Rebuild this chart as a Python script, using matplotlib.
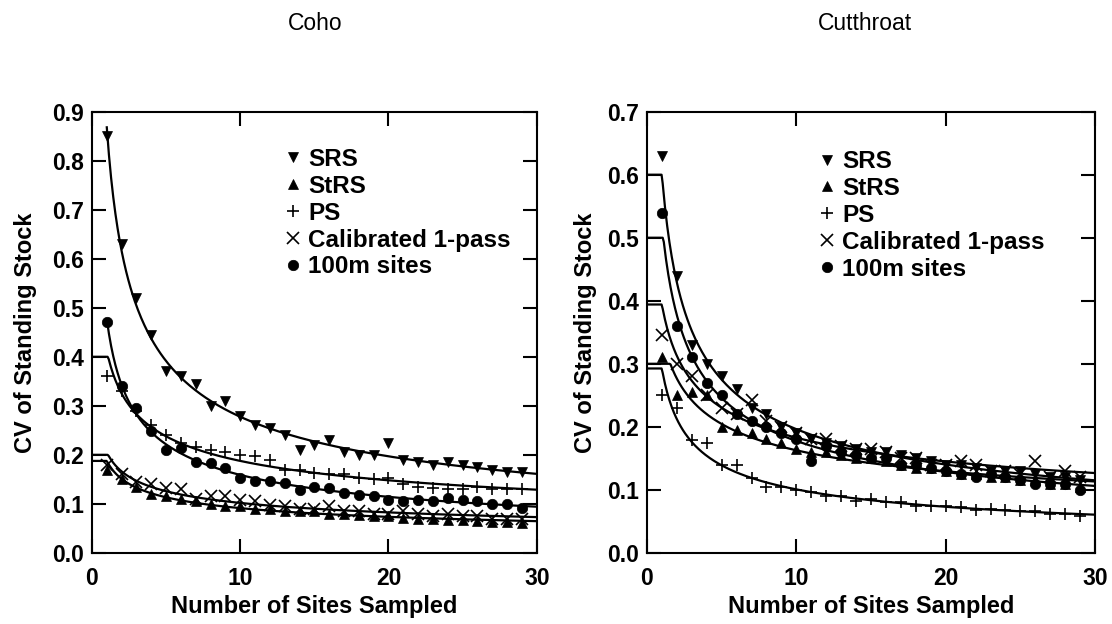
import matplotlib
matplotlib.use('Agg')
import matplotlib.pyplot as plt
import numpy as np

plt.rcParams['font.family'] = ['Liberation Sans', 'DejaVu Sans']

n_sites = np.arange(1, 30)

# Coho
coho_srs = [0.85, 0.63, 0.52, 0.445, 0.37, 0.36, 0.345, 0.30, 0.31, 0.28,
            0.26, 0.255, 0.24, 0.21, 0.22, 0.23, 0.205, 0.20, 0.20, 0.225,
            0.19, 0.185, 0.18, 0.185, 0.18, 0.175, 0.17, 0.165, 0.165]
coho_strs = [0.17, 0.15, 0.135, 0.12, 0.115, 0.11, 0.105, 0.10, 0.095, 0.095,
             0.09, 0.09, 0.085, 0.085, 0.085, 0.08, 0.08, 0.078, 0.075, 0.075,
             0.072, 0.07, 0.07, 0.068, 0.067, 0.065, 0.063, 0.063, 0.06]
coho_ps = [0.36, 0.33, 0.29, 0.26, 0.24, 0.225, 0.215, 0.21, 0.205, 0.20,
           0.197, 0.19, 0.17, 0.17, 0.163, 0.16, 0.16, 0.153, 0.15, 0.152,
           0.14, 0.135, 0.133, 0.131, 0.131, 0.134, 0.131, 0.13, 0.13]
coho_cal = [0.18, 0.16, 0.145, 0.14, 0.132, 0.13, 0.11, 0.117, 0.115, 0.108,
            0.105, 0.098, 0.095, 0.09, 0.09, 0.095, 0.085, 0.085, 0.08, 0.08,
            0.085, 0.08, 0.075, 0.08, 0.075, 0.075, 0.07, 0.07, 0.07]
coho_100m = [0.47, 0.34, 0.295, 0.248, 0.21, 0.214, 0.186, 0.183, 0.173, 0.152,
             0.146, 0.146, 0.143, 0.129, 0.135, 0.132, 0.122, 0.118, 0.116, 0.108,
             0.105, 0.108, 0.105, 0.112, 0.108, 0.105, 0.10, 0.099, 0.092]

# Cutthroat
cut_srs = [0.63, 0.44, 0.33, 0.30, 0.28, 0.26, 0.23, 0.22, 0.20, 0.19,
           0.18, 0.175, 0.17, 0.165, 0.16, 0.16, 0.155, 0.15, 0.145, 0.14,
           0.14, 0.135, 0.13, 0.13, 0.13, 0.125, 0.12, 0.12, 0.115]
cut_strs = [0.31, 0.25, 0.255, 0.25, 0.20, 0.195, 0.19, 0.18, 0.175, 0.165,
            0.16, 0.16, 0.155, 0.15, 0.15, 0.145, 0.14, 0.135, 0.135, 0.13,
            0.125, 0.125, 0.12, 0.12, 0.115, 0.115, 0.11, 0.11, 0.105]
cut_ps = [0.25, 0.23, 0.179, 0.174, 0.14, 0.14, 0.119, 0.105, 0.105, 0.10,
          0.097, 0.09, 0.09, 0.082, 0.085, 0.08, 0.08, 0.075, 0.075, 0.075,
          0.073, 0.068, 0.07, 0.068, 0.066, 0.066, 0.062, 0.062, 0.058]
cut_cal = [0.345, 0.30, 0.28, 0.25, 0.23, 0.22, 0.243, 0.21, 0.20, 0.19,
           0.18, 0.18, 0.17, 0.165, 0.165, 0.16, 0.15, 0.15, 0.14, 0.14,
           0.145, 0.14, 0.13, 0.13, 0.125, 0.145, 0.12, 0.13, 0.12]
cut_100m = [0.54, 0.36, 0.31, 0.27, 0.25, 0.22, 0.21, 0.20, 0.19, 0.18,
            0.145, 0.17, 0.16, 0.155, 0.15, 0.15, 0.14, 0.14, 0.135, 0.13,
            0.125, 0.12, 0.125, 0.12, 0.115, 0.11, 0.11, 0.11, 0.10]

labels = ['SRS', 'StRS', 'PS', 'Calibrated 1-pass', '100m sites']
markers = ['v', '^', '+', 'x', 'o']
# ceiling of the fitted curve for n < 1 (None: curve starts at n = 1)
coho_caps = [None, 0.2, 0.4, 0.2, None]
cut_caps = [0.6, 0.3, 0.3, 0.4, 0.5]


def fit_curve(y, cap):
    b, log_a = np.polyfit(np.log(n_sites), np.log(y), 1)
    x0 = 0.0 if cap is not None else 1.0
    xs = np.linspace(x0, 30, 400)
    ys = np.exp(log_a) * np.maximum(xs, 1.0) ** b
    if cap is not None:
        ys = np.minimum(ys, cap)
    return xs, ys


def panel(ax, series, caps, ymax, leg_x, leg_y, ylabpad):
    for y, m, lab, cap in zip(series, markers, labels, caps):
        xs, ys = fit_curve(y, cap)
        ax.plot(xs, ys, color='black', lw=1.6)
        ms = 9 if m in '+x' else 7.5
        ax.plot(n_sites, y, linestyle='none', marker=m, color='black',
                markersize=ms, markeredgewidth=1.2 if m in '+x' else 0.5,
                label=lab)
    ax.set_xlim(0, 30)
    ax.set_ylim(0, ymax)
    ax.set_xticks([0, 10, 20, 30])
    ax.set_yticks(np.arange(0, ymax + 0.01, 0.1))
    ax.set_yticklabels(['%.1f' % v for v in np.arange(0, ymax + 0.01, 0.1)])
    ax.tick_params(direction='in', length=10, width=1.5, top=True, right=True,
                   labelsize=16.5)
    ax.tick_params(axis='x', pad=10)
    ax.tick_params(axis='y', pad=6)
    for lab in ax.get_xticklabels() + ax.get_yticklabels():
        lab.set_fontweight('bold')
    for sp in ax.spines.values():
        sp.set_linewidth(1.5)
    ax.set_xlabel('Number of Sites Sampled', fontsize=17, fontweight='bold', labelpad=4)
    ax.set_ylabel('CV of Standing Stock', fontsize=17, fontweight='bold', labelpad=ylabpad)
    ax.legend(loc='upper left', bbox_to_anchor=(leg_x, leg_y), frameon=False,
              handlelength=0.8, handletextpad=0.22, borderpad=0, borderaxespad=0,
              labelspacing=0.16, prop={'weight': 'bold', 'size': 17.5})


fig = plt.figure(figsize=(11.12, 6.24), dpi=100)
ax1 = fig.add_axes([0.0827, 0.114, 0.400, 0.707])
ax2 = fig.add_axes([0.5818, 0.114, 0.403, 0.707])

panel(ax1, [coho_srs, coho_strs, coho_ps, coho_cal, coho_100m], coho_caps, 0.9,
      0.43, 0.918, 10.5)
panel(ax2, [cut_srs, cut_strs, cut_ps, cut_cal, cut_100m], cut_caps, 0.7,
      0.38, 0.913, 7)

fig.text(0.283, 0.962, 'Coho', ha='center', va='center', fontsize=16.5)
fig.text(0.778, 0.962, 'Cutthroat', ha='center', va='center', fontsize=16.5)

fig.savefig('out.png', dpi=100)
